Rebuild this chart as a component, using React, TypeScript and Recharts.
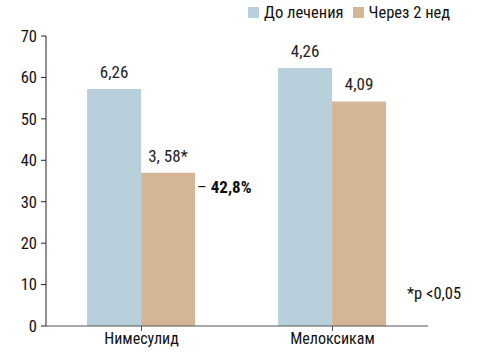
import { BarChart, Bar, XAxis, YAxis, LabelList } from "recharts";

const drugs = ["Нимесулид", "Мелоксикам"];
const before = [57.2, 62.3];
const after = [37, 54.2];
const beforeLabels = ["6,26", "4,26"];
const afterLabels = ["3, 58*", "4,09"];
const yTicks = [0, 10, 20, 30, 40, 50, 60, 70];
const seriesNames = ["До лечения", "Через 2 нед"];
const seriesColors = ["#b8d0dc", "#d4b696"];

const data = drugs.map((name, i) => ({
  name,
  before: before[i],
  after: after[i],
  beforeLabel: beforeLabels[i],
  afterLabel: afterLabels[i],
}));

const FONT = "'Liberation Sans Narrow', 'Arial Narrow', 'Roboto Condensed', sans-serif";

function AfterLabel(props: any) {
  const { x, y, width, index, value } = props;
  return (
    <g>
      <text x={x + width / 2} y={y - 11} textAnchor="middle" fontSize={17} fill="#222" fontFamily={FONT}>
        {value}
      </text>
      {index === 0 && (
        <text x={x + width + 2} y={y + 20} fontSize={17} fill="#111" fontFamily={FONT}>
          <tspan>– </tspan>
          <tspan fontWeight="bold">42,8%</tspan>
        </text>
      )}
    </g>
  );
}

export default function App() {
  return (
    <div style={{ position: "absolute", left: 0, top: 0, width: 478, height: 354, background: "#fff", fontFamily: FONT }}>
      <BarChart
        width={478}
        height={354}
        data={data}
        margin={{ top: 36, right: 50, bottom: 0, left: 0 }}
        barCategoryGap="21.5%"
        barGap={0}
      >
        <XAxis
          dataKey="name"
          height={28}
          tickSize={5}
          tickMargin={2}
          stroke="#555"
          tick={{ fill: "#111", fontSize: 16, fontFamily: FONT }}
        />
        <YAxis
          width={46}
          domain={[0, 70]}
          ticks={yTicks}
          tickSize={5}
          tickMargin={4}
          stroke="#222"
          tick={{ fill: "#111", fontSize: 16.5, fontFamily: FONT }}
        />
        <Bar dataKey="before" name={seriesNames[0]} fill={seriesColors[0]} isAnimationActive={false}>
          <LabelList dataKey="beforeLabel" position="top" offset={11} fontSize={17} fill="#222" fontFamily={FONT} />
        </Bar>
        <Bar dataKey="after" name={seriesNames[1]} fill={seriesColors[1]} isAnimationActive={false}>
          <LabelList dataKey="afterLabel" content={AfterLabel} />
        </Bar>
      </BarChart>
      <div style={{ position: "absolute", left: 248, top: 3, display: "flex", alignItems: "center", fontSize: 16.5, color: "#111" }}>
        {seriesNames.map((n, i) => (
          <span key={n} style={{ display: "flex", alignItems: "center", marginRight: 9 }}>
            <span style={{ width: 11, height: 11, background: seriesColors[i], marginRight: 5, display: "inline-block" }} />
            {n}
          </span>
        ))}
      </div>
      <div style={{ position: "absolute", left: 407, top: 284, fontSize: 16.5, color: "#111" }}>*p &lt;0,05</div>
    </div>
  );
}
